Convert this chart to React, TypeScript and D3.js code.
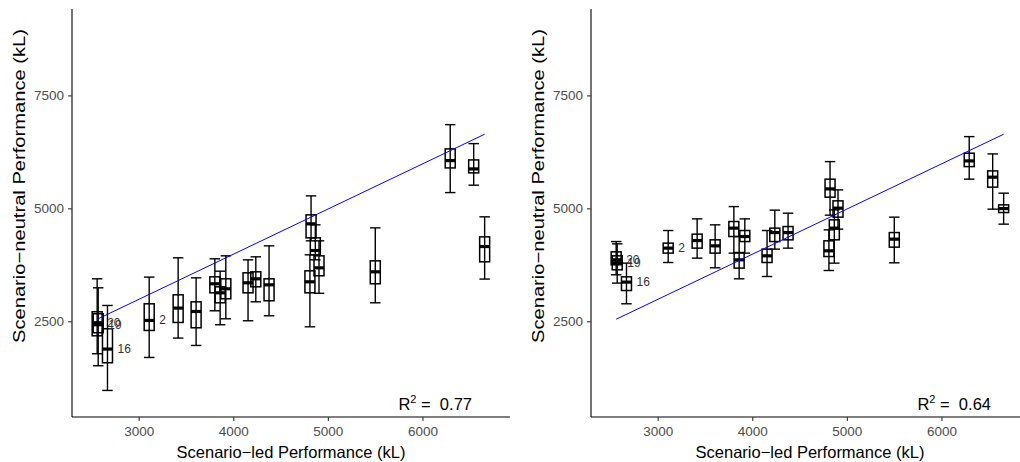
import React from 'react'
import * as d3 from 'd3'

// site ids, one per box (same order in every array below)
const siteIds = [20, 19, 16, 2, 1, 3, 4, 5, 6, 7, 8, 9, 10, 11, 12, 13, 14, 15, 17, 18]
const labelledSites = [2, 16, 19, 20]

// scenario-led performance (kL), shared x for both panels
const ledPerf = [2556, 2567, 2665, 3106, 3412, 3602, 3800, 3856, 3916, 4151, 4233, 4373, 4817, 4862, 4901, 4805, 5496, 6288, 6536, 6652]

// left panel: scenario-neutral performance distribution
const leftMed = [2478, 2434, 1896, 2529, 2803, 2728, 3341, 3141, 3230, 3363, 3451, 3318, 4668, 4077, 3694, 3385, 3606, 6068, 5884, 4166]
const leftQ1 = [2190, 2257, 1593, 2308, 2485, 2367, 3141, 2920, 3009, 3141, 3274, 2965, 4358, 3982, 3518, 3141, 3341, 5906, 5796, 3827]
const leftQ3 = [2721, 2677, 2345, 2898, 3097, 2942, 3495, 3274, 3451, 3584, 3606, 3451, 4867, 4358, 3960, 3628, 3849, 6327, 6083, 4380]
const leftLo = [1792, 1527, 980, 1710, 2139, 1976, 2743, 2434, 2566, 2522, 2942, 2633, 4292, 3871, 3130, 2389, 2920, 5360, 5524, 3445]
const leftHi = [3451, 3252, 2861, 3489, 3916, 3473, 3894, 3620, 3960, 3871, 3938, 4181, 5287, 4646, 4292, 3982, 4579, 6864, 6444, 4823]

// right panel
const rightMed = [3871, 3805, 3378, 4130, 4298, 4181, 4573, 3871, 4387, 3960, 4475, 4475, 5442, 4573, 5015, 4071, 4329, 6061, 5701, 5006]
const rightQ1 = [3761, 3650, 3192, 4020, 4130, 4020, 4387, 3688, 4276, 3812, 4276, 4314, 5258, 4314, 4816, 3944, 4152, 5935, 5480, 4918]
const rightQ3 = [4048, 3960, 3495, 4241, 4440, 4314, 4719, 4033, 4520, 4108, 4573, 4608, 5657, 4756, 5177, 4292, 4475, 6232, 5840, 5088]
const rightLo = [3540, 3356, 2898, 3812, 3909, 3695, 4020, 3451, 4020, 3502, 4108, 4130, 4860, 3798, 4551, 3635, 3805, 5657, 4993, 4661]
const rightHi = [4276, 4225, 3798, 4520, 4778, 4646, 5050, 4387, 4778, 4520, 4971, 4904, 6046, 4977, 5420, 4535, 4816, 6599, 6216, 5347]

const xTicks = [3000, 4000, 5000, 6000]
const yTicks = [2500, 5000, 7500]
const rSquared = ['0.77', '0.64']

const FONT = '"Liberation Sans", Arial, Helvetica, sans-serif'

const Panel = (props) => {
  const {left, med, q1, q3, lo, hi, r2} = props
  const x = d3.scaleLinear().domain([2290, 6920]).range([left, left + 438])
  const y = d3.scaleLinear().domain([392, 9424]).range([417, 9])
  const boxW = 10
  const capW = 10.5
  const lineExt = d3.extent(ledPerf)
  const line = d3.line().x((d) => x(d)).y((d) => y(d))

  return (
    <g>
      {/* axes */}
      <line x1={left} x2={left} y1={y(9424)} y2={y(392)} stroke="#000" strokeWidth={1.1} />
      <line x1={left} x2={x(6920)} y1={y(392)} y2={y(392)} stroke="#000" strokeWidth={1.1} />
      {yTicks.map((t) => (
        <g key={'y' + t}>
          <line x1={left - 4} x2={left} y1={y(t)} y2={y(t)} stroke="#333" strokeWidth={1.1} />
          <text x={left - 8} y={y(t)} textAnchor="end" dominantBaseline="central" fontSize={13.5} fill="#4d4d4d">
            {t}
          </text>
        </g>
      ))}
      {xTicks.map((t) => (
        <g key={'x' + t}>
          <line x1={x(t)} x2={x(t)} y1={417} y2={421} stroke="#333" strokeWidth={1.1} />
          <text x={x(t)} y={436} textAnchor="middle" fontSize={13.5} fill="#4d4d4d">
            {t}
          </text>
        </g>
      ))}
      <text x={left + 219} y={458} textAnchor="middle" fontSize={16.5} fill="#000">
        Scenario−led Performance (kL)
      </text>
      <text
        transform={`translate(${left - 53},186) rotate(-90)`}
        textAnchor="middle"
        dominantBaseline="central"
        fontSize={16.5}
        textLength={314}
        lengthAdjust="spacingAndGlyphs"
        fill="#000"
      >
        Scenario−neutral Performance (kL)
      </text>

      {/* boxes */}
      {ledPerf.map((v, i) => {
        const cx = x(v)
        return (
          <g key={i} stroke="#000" fill="none">
            <line x1={cx} x2={cx} y1={y(lo[i])} y2={y(hi[i])} strokeWidth={1.4} />
            <line x1={cx - capW / 2} x2={cx + capW / 2} y1={y(lo[i])} y2={y(lo[i])} strokeWidth={1.4} />
            <line x1={cx - capW / 2} x2={cx + capW / 2} y1={y(hi[i])} y2={y(hi[i])} strokeWidth={1.4} />
            <rect x={cx - boxW / 2} y={y(q3[i])} width={boxW} height={y(q1[i]) - y(q3[i])} strokeWidth={1.5} />
            <line x1={cx - boxW / 2} x2={cx + boxW / 2} y1={y(med[i])} y2={y(med[i])} strokeWidth={3.2} />
          </g>
        )
      })}

      {/* 1:1 line */}
      <path d={line(lineExt)} stroke="#0000ff" strokeWidth={1} fill="none" />

      {ledPerf.map((v, i) =>
        labelledSites.includes(siteIds[i]) ? (
          <text key={'l' + i} x={x(v) + 10} y={y(med[i])} dominantBaseline="central" fontSize={12} fill="#333">
            {siteIds[i]}
          </text>
        ) : null
      )}

      <text x={left + 400} y={410} textAnchor="end" fontSize={16.5} fill="#000">
        R<tspan fontSize={11} dy={-7}>2</tspan>
        <tspan dy={7}>{' =\u00a0 ' + r2}</tspan>
      </text>
    </g>
  )
}

export default function App() {
  return (
    <svg
      width={1020}
      height={462}
      style={{position: 'absolute', left: 0, top: 0, display: 'block', background: '#fff'}}
      fontFamily={FONT}
    >
      <rect width={1020} height={462} fill="#fff" />
      <Panel left={72} med={leftMed} q1={leftQ1} q3={leftQ3} lo={leftLo} hi={leftHi} r2={rSquared[0]} />
      <Panel left={591} med={rightMed} q1={rightQ1} q3={rightQ3} lo={rightLo} hi={rightHi} r2={rSquared[1]} />
    </svg>
  )
}
